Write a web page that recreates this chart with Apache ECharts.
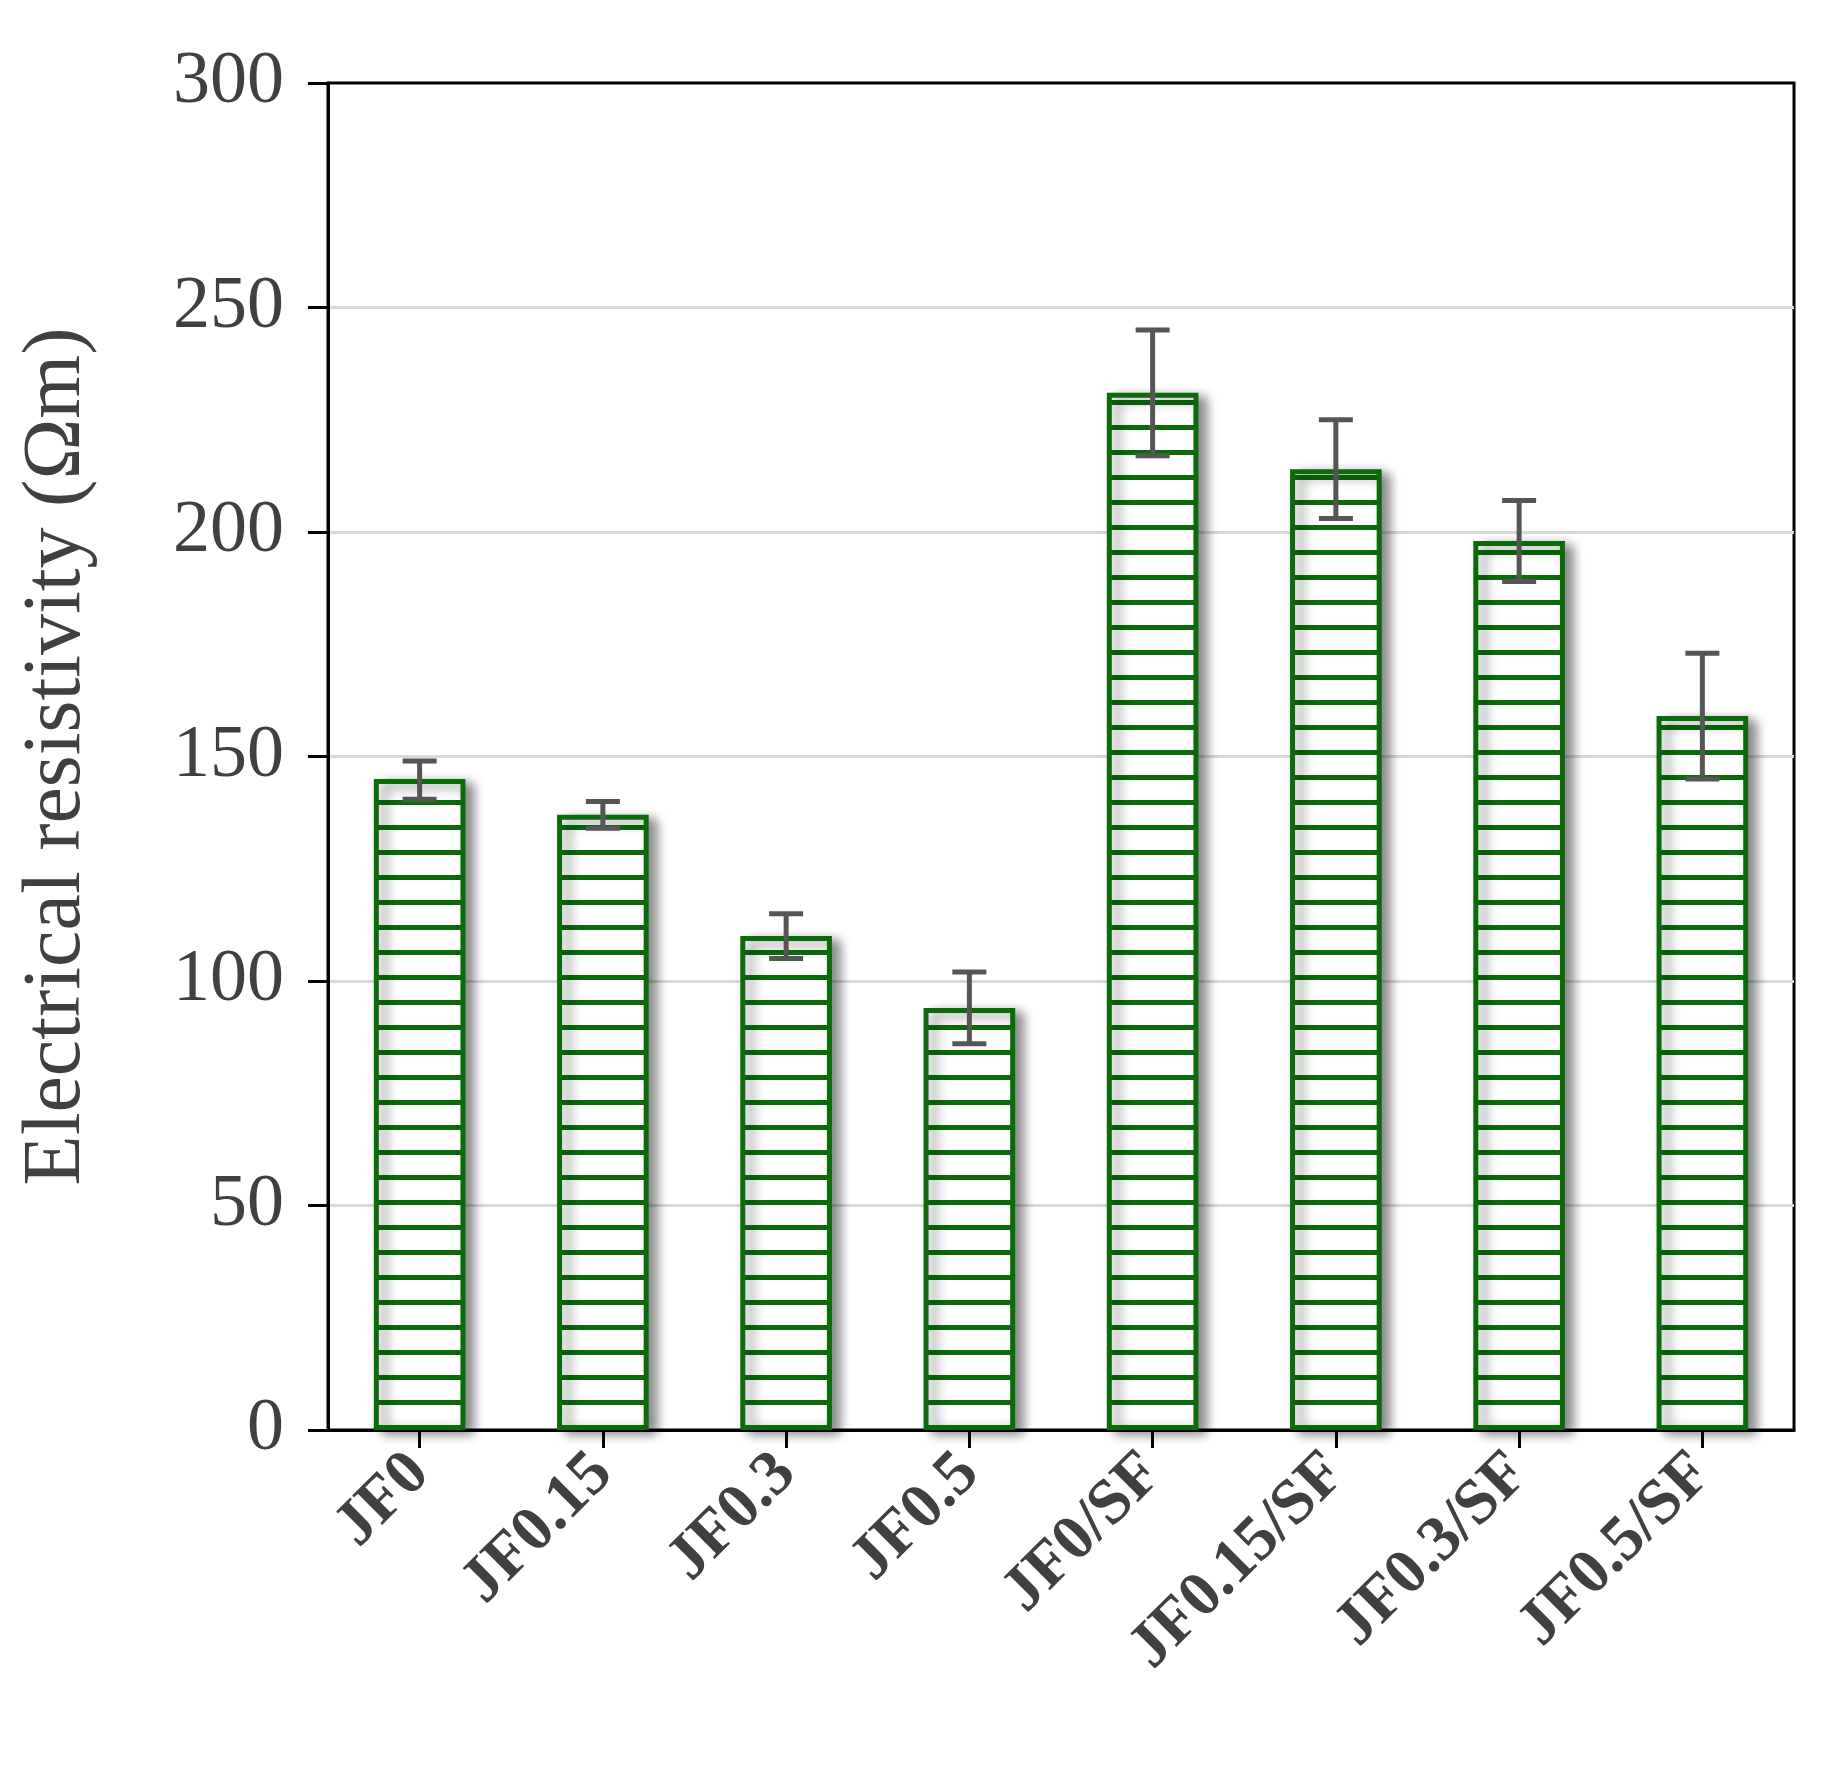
<!DOCTYPE html>
<html><head><meta charset="utf-8">
<script src="https://cdn.jsdelivr.net/npm/echarts@6/dist/echarts.min.js"></script>
<style>html,body{margin:0;padding:0;background:#fff}#c{width:1829px;height:1766px}</style>
</head><body><div id="c"></div>
<script>
let categories = ['JF0', 'JF0.15', 'JF0.3', 'JF0.5', 'JF0/SF', 'JF0.15/SF', 'JF0.3/SF', 'JF0.5/SF']
let values = [145, 137, 110, 94, 231, 214, 198, 159]
let errLow = [140.5, 134, 105, 86, 217, 203, 189, 145]
let errHigh = [149, 140, 115, 102, 245, 225, 207, 173]

// hatch pattern: white with green horizontal stripes
let pc = document.createElement('canvas')
pc.width = 20
pc.height = 25
let ctx = pc.getContext('2d')
ctx.fillStyle = '#fff'
ctx.fillRect(0, 0, 20, 25)
ctx.fillStyle = '#0b6b0b'
ctx.fillRect(0, 0, 20, 5)

let font = '"Liberation Serif", "Times New Roman", serif'
let chart = echarts.init(document.getElementById('c'))
chart.setOption({
  animation: false,
  grid: { left: 328, right: 35, top: 83, bottom: 336, show: true, borderColor: '#000', borderWidth: 3 },
  xAxis: {
    type: 'category',
    data: categories,
    axisLine: { lineStyle: { color: '#000', width: 3 } },
    axisTick: { show: true, alignWithLabel: true, length: 18, lineStyle: { color: '#000', width: 3 } },
    axisLabel: { rotate: 45, fontFamily: font, fontWeight: 'bold', fontSize: 64, color: '#404040', margin: 34 }
  },
  yAxis: {
    type: 'value',
    min: 0,
    max: 300,
    interval: 50,
    name: 'Electrical resistivity (Ωm)',
    nameLocation: 'middle',
    nameGap: 230,
    nameTextStyle: { fontFamily: font, fontSize: 82, color: '#404040' },
    axisLine: { show: true, lineStyle: { color: '#000', width: 3 } },
    axisTick: { show: true, length: 20, lineStyle: { color: '#000', width: 3 } },
    axisLabel: { fontFamily: font, fontSize: 74, color: '#404040', margin: 44 },
    splitLine: { showMaxLine: false, lineStyle: { color: '#d9d9d9', width: 3 } }
  },
  series: [
    {
      type: 'bar',
      data: values,
      barWidth: '50%',
      itemStyle: {
        color: { image: pc, repeat: 'repeat' },
        borderColor: '#0b6b0b',
        borderWidth: 5,
        shadowColor: 'rgba(0,0,0,0.45)',
        shadowBlur: 12,
        shadowOffsetX: 8,
        shadowOffsetY: 4
      }
    },
    {
      type: 'custom',
      z: 10,
      data: categories.map((c, i) => [i, errLow[i], errHigh[i]]),
      renderItem: function(params, api) {
        let lo = api.coord([api.value(0), api.value(1)])
        let hi = api.coord([api.value(0), api.value(2)])
        let w = 17
        let st = { stroke: '#555', lineWidth: 5 }
        return {
          type: 'group',
          children: [
            { type: 'line', shape: { x1: lo[0], y1: lo[1], x2: hi[0], y2: hi[1] }, style: st },
            { type: 'line', shape: { x1: lo[0] - w, y1: lo[1], x2: lo[0] + w, y2: lo[1] }, style: st },
            { type: 'line', shape: { x1: hi[0] - w, y1: hi[1], x2: hi[0] + w, y2: hi[1] }, style: st }
          ]
        }
      }
    }
  ]
})
</script></body></html>
